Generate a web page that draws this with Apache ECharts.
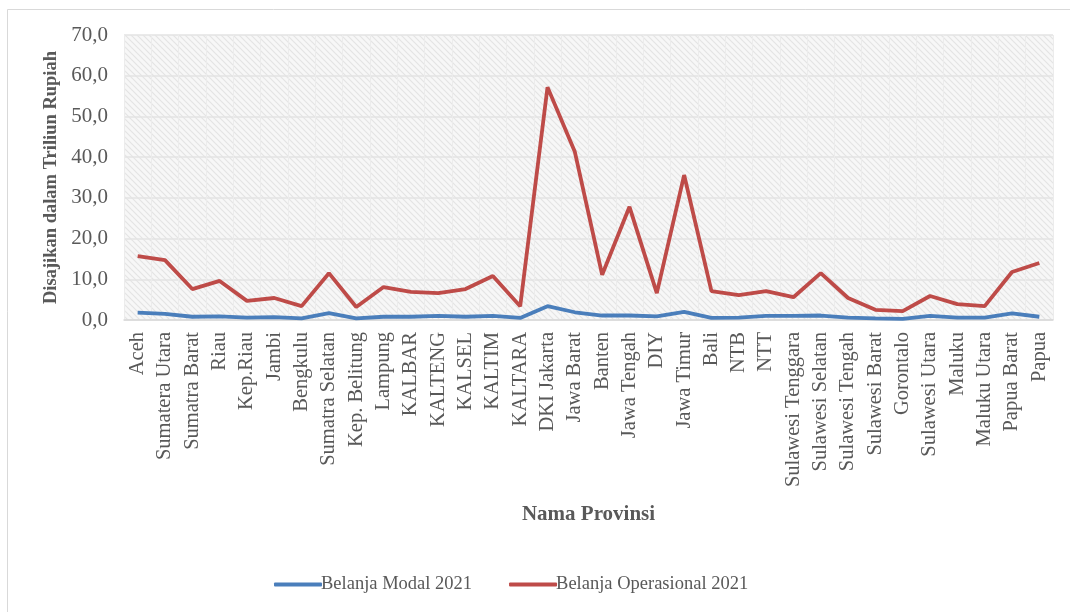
<!DOCTYPE html>
<html>
<head>
<meta charset="utf-8">
<script src="https://cdn.jsdelivr.net/npm/echarts@6/dist/echarts.min.js"></script>
<style>
  html, body { margin: 0; padding: 0; background: #fff; }
  #main { width: 1070px; height: 612px; }
</style>
</head>
<body>
<div id="main"></div>
<script>
var provinces = ["Aceh","Sumatera Utara","Sumatra Barat","Riau","Kep.Riau","Jambi","Bengkulu","Sumatra Selatan","Kep. Belitung","Lampung","KALBAR","KALTENG","KALSEL","KALTIM","KALTARA","DKI Jakarta","Jawa Barat","Banten","Jawa Tengah","DIY","Jawa Timur","Bali","NTB","NTT","Sulawesi Tenggara","Sulawesi Selatan","Sulawesi Tengah","Sulawesi Barat","Gorontalo","Sulawesi Utara","Maluku","Maluku Utara","Papua Barat","Papua"];
var belanjaModal = [1.8,1.5,0.8,0.9,0.6,0.7,0.4,1.7,0.4,0.8,0.8,1.0,0.8,1.0,0.5,3.4,1.9,1.1,1.1,0.9,2.0,0.5,0.6,1.0,1.0,1.1,0.6,0.4,0.3,1.0,0.6,0.6,1.6,0.8];
var belanjaOperasional = [15.7,14.7,7.6,9.6,4.7,5.4,3.4,11.5,3.2,8.1,6.9,6.6,7.6,10.8,3.4,57.2,41.3,11.1,27.8,6.6,35.6,7.1,6.1,7.1,5.6,11.5,5.4,2.5,2.2,5.9,3.9,3.4,11.8,14.0];

// hatched background like the office chart fill
var hatch = document.createElement('canvas');
hatch.width = 6; hatch.height = 6;
var hc = hatch.getContext('2d');
hc.fillStyle = '#f7f7f7';
hc.fillRect(0, 0, 6, 6);
hc.strokeStyle = '#e4e4e4';
hc.lineWidth = 1.2;
hc.beginPath();
hc.moveTo(0, 0); hc.lineTo(6, 6);
hc.moveTo(-3, 3); hc.lineTo(3, 9);
hc.moveTo(3, -3); hc.lineTo(9, 3);
hc.stroke();

var font = '"Liberation Serif", "Times New Roman", serif';
var myChart = echarts.init(document.getElementById('main'));
var option = {
    backgroundColor: '#fff',
    animation: false,
    textStyle: { fontFamily: font },
    graphic: [{
        type: 'rect',
        shape: { x: 7.5, y: 9.5, width: 1080, height: 620 },
        style: { fill: 'none', stroke: '#d9d9d9', lineWidth: 1 },
        silent: true
    }],
    grid: {
        left: 124, right: 17, top: 35, bottom: 292,
        show: true,
        borderWidth: 0,
        backgroundColor: { image: hatch, repeat: 'repeat' }
    },
    legend: {
        top: 570,
        left: 269,
        itemGap: 37,
        itemWidth: 48,
        itemHeight: 4,
        icon: 'roundRect',
        textStyle: { fontFamily: font, fontSize: 18.5, color: '#595959', padding: [0, 0, 0, -6] },
        data: ['Belanja Modal 2021', 'Belanja Operasional 2021']
    },
    xAxis: {
        type: 'category',
        data: provinces,
        boundaryGap: true,
        name: 'Nama Provinsi',
        nameLocation: 'middle',
        nameGap: 184,
        nameTextStyle: { fontFamily: font, fontSize: 21, fontWeight: 'bold', color: '#595959' },
        axisLine: { lineStyle: { color: '#d9d9d9', width: 1.5 } },
        axisTick: { show: false },
        axisLabel: { rotate: 90, interval: 0, fontSize: 20.5, color: '#595959', margin: 12 },
        splitLine: { show: true, lineStyle: { color: '#ececec', width: 1 } }
    },
    yAxis: {
        type: 'value',
        min: 0, max: 70, interval: 10,
        name: 'Disajikan dalam Triliun Rupiah',
        nameLocation: 'middle',
        nameGap: 61,
        nameTextStyle: { fontFamily: font, fontSize: 18.5, fontWeight: 'bold', color: '#595959' },
        axisLine: { show: false },
        axisTick: { show: false },
        axisLabel: {
            fontSize: 21, color: '#595959', margin: 16,
            formatter: function (v) { return v.toFixed(1).replace('.', ','); }
        },
        splitLine: { lineStyle: { color: '#e3e3e3', width: 1.5 } }
    },
    series: [{
        name: 'Belanja Modal 2021',
        type: 'line',
        data: belanjaModal,
        symbol: 'none',
        lineStyle: { color: '#4a7ebb', width: 3.8 },
        itemStyle: { color: '#4a7ebb' }
    }, {
        name: 'Belanja Operasional 2021',
        type: 'line',
        data: belanjaOperasional,
        symbol: 'none',
        lineStyle: { color: '#be4b48', width: 3.8 },
        itemStyle: { color: '#be4b48' }
    }]
};
myChart.setOption(option);
</script>
</body>
</html>
